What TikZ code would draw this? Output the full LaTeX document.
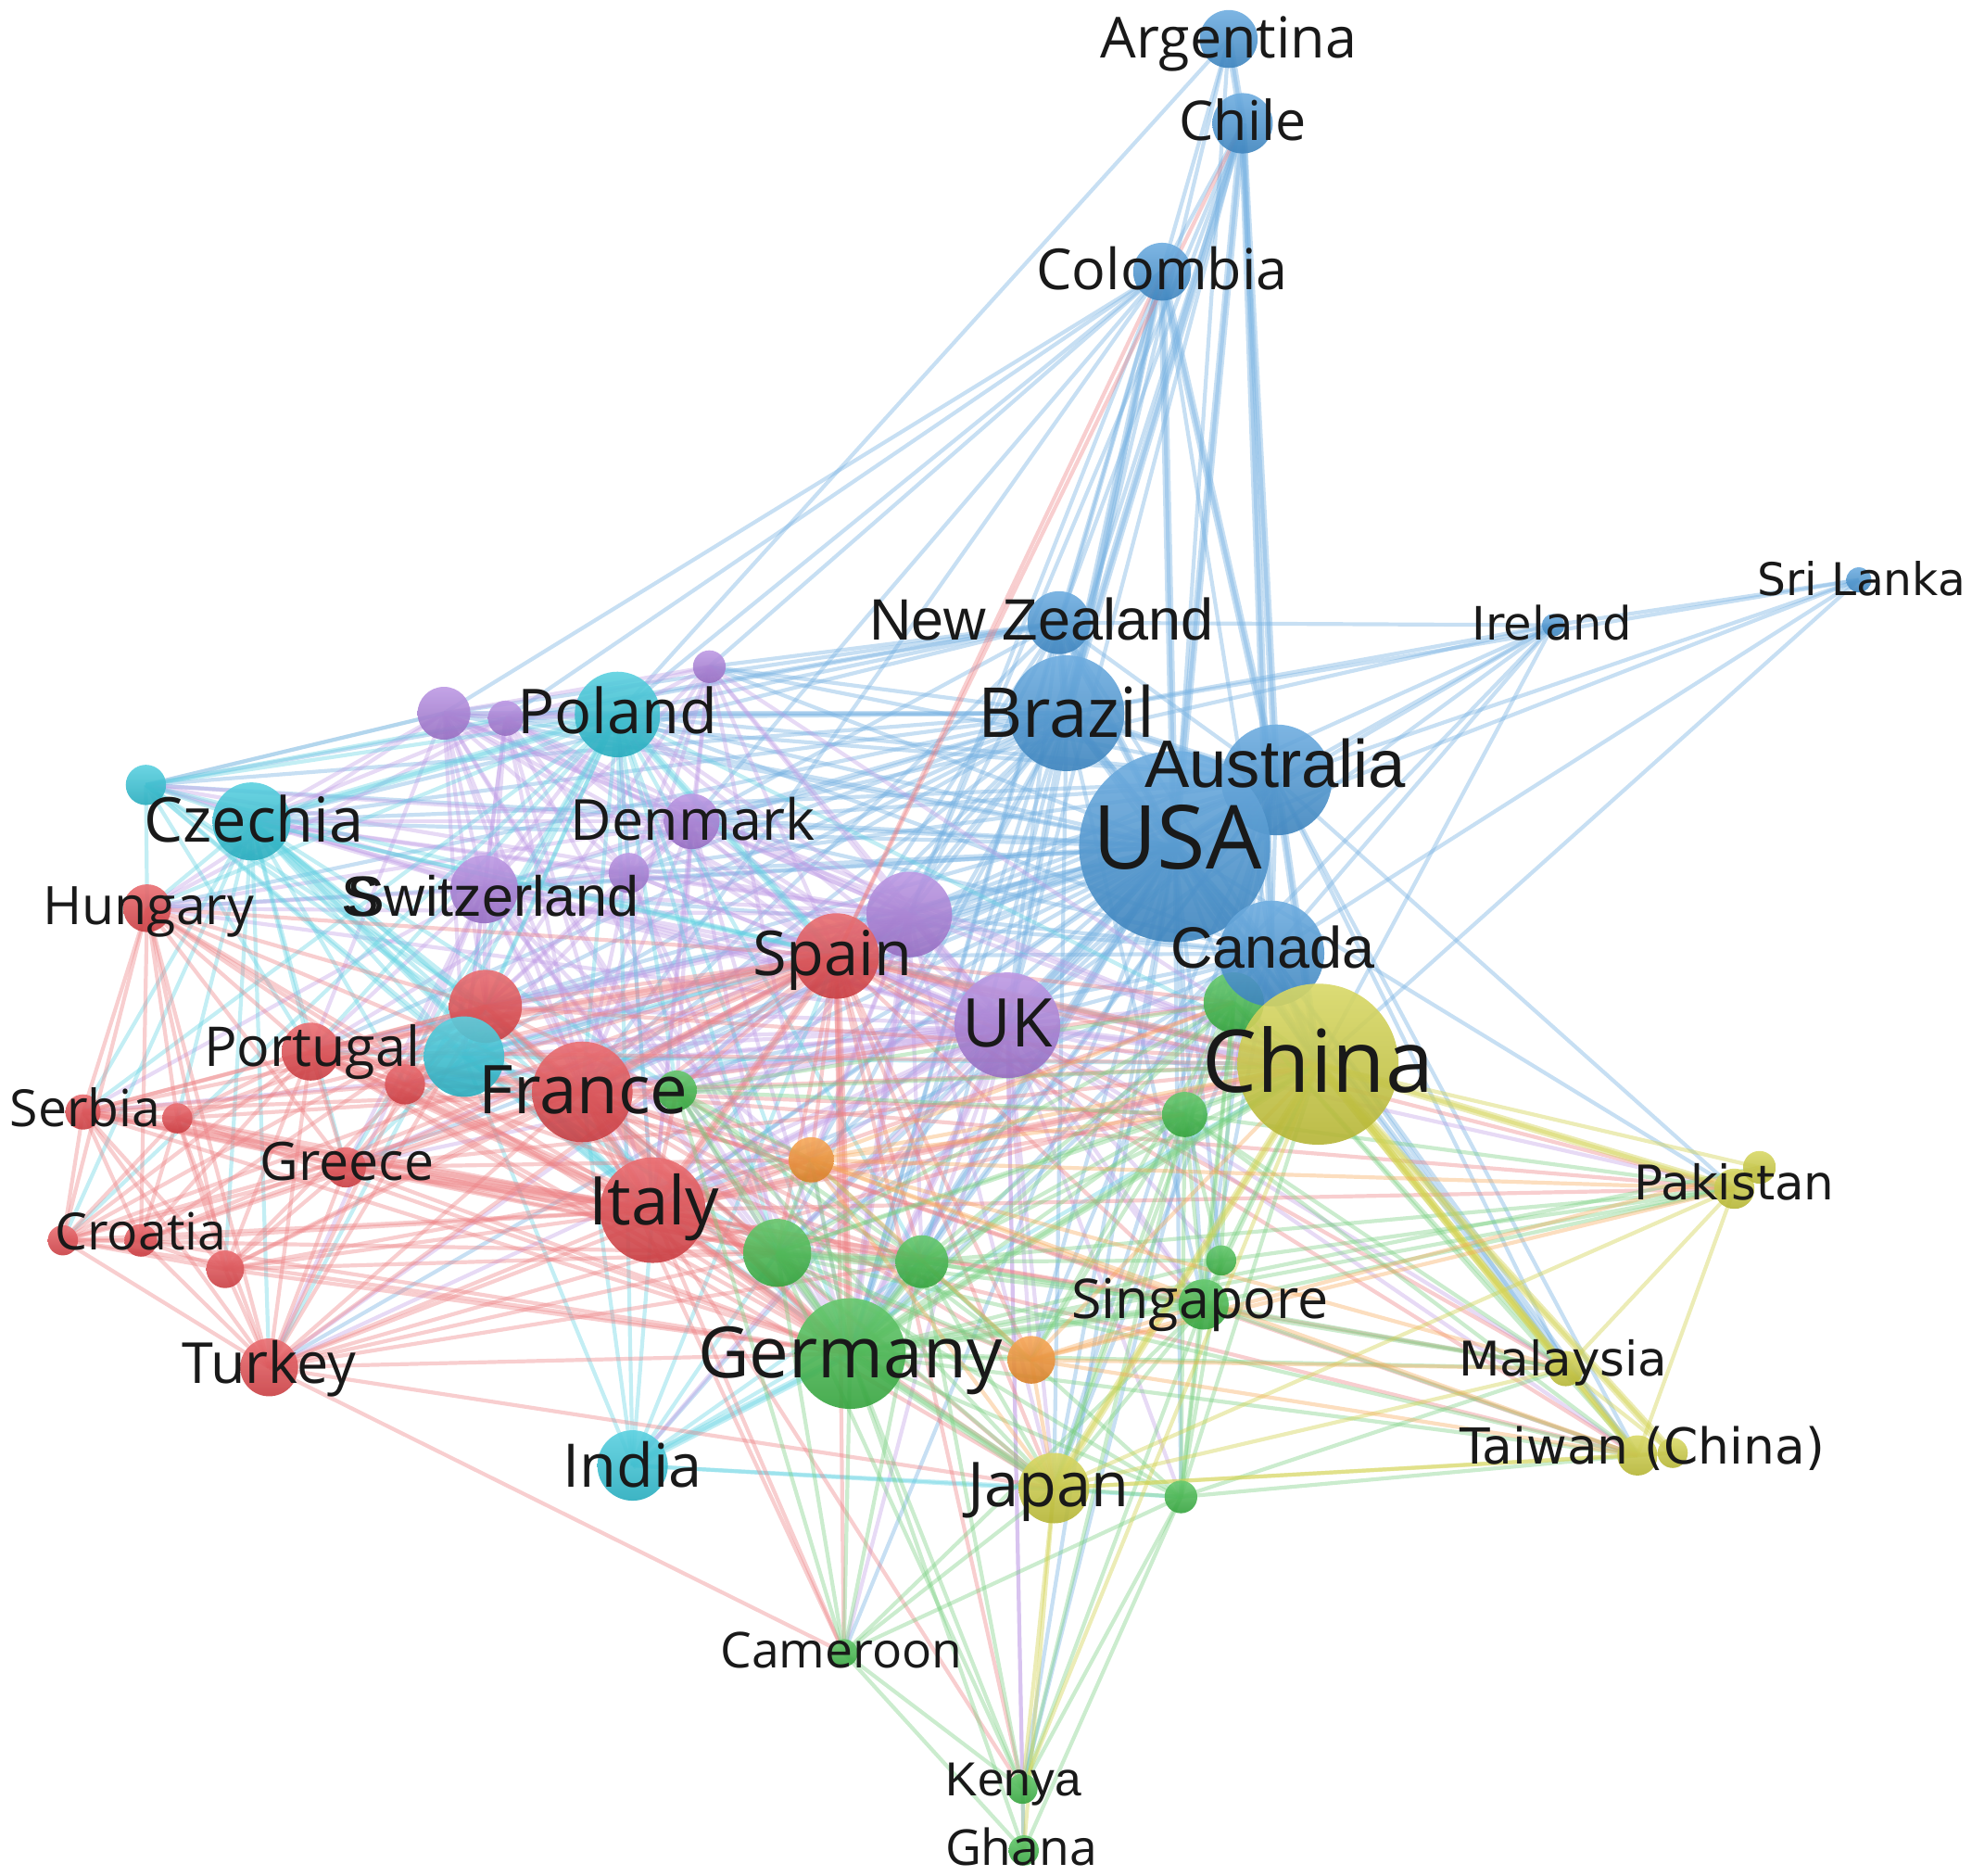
\documentclass[tikz,border=0pt]{standalone}
\usepackage{fontspec}
\setmainfont{Open Sans}
\newfontfamily\arialf{Liberation Sans}
\newfontfamily\dejaf{DejaVu Sans}
\pgfdeclarelayer{edges}
\pgfsetlayers{edges,main}
\definecolor{cB}{RGB}{70,150,215}
\definecolor{cC}{RGB}{45,195,215}
\definecolor{cP}{RGB}{170,125,220}
\definecolor{cR}{RGB}{228,70,75}
\definecolor{cG}{RGB}{60,185,70}
\definecolor{cY}{RGB}{205,205,60}
\definecolor{cO}{RGB}{245,145,45}
\definecolor{labc}{RGB}{25,25,25}
\tikzset{
  ndbase/.style={circle, inner sep=0pt, draw=none, fill opacity=0.9},
  lbl/.style={anchor=base, inner sep=0pt, text=labc},
  eB/.style={draw=cB!75!white, line width=2.2pt, draw opacity=0.4},
  eC/.style={draw=cC!75!white, line width=2.2pt, draw opacity=0.38},
  eP/.style={draw=cP!75!white, line width=2.2pt, draw opacity=0.38},
  eR/.style={draw=cR!70!white, line width=2.2pt, draw opacity=0.38},
  eG/.style={draw=cG!70!white, line width=2.2pt, draw opacity=0.38},
  eY/.style={draw=cY!90!white, line width=2.2pt, draw opacity=0.42},
  eO/.style={draw=cO!80!white, line width=2.2pt, draw opacity=0.38},
  wide/.style={line width=4.5pt}
}
\newcommand\nd[5]{\node[ndbase, top color=#5!78!white, bottom color=#5!88!black, minimum size=#4*0.5mm] (#1) at (#2,#3) {};}
\newcommand\lb[6]{\node[lbl, font={#6\fontsize{#5pt}{#5pt}\selectfont}] (#1) at (#2,{#3+#5/2}) {#4};}
\newcommand\fan[3]{\foreach \t in {#3} {\draw[#1] (#2.center) -- (\t.center);}}
\begin{document}
\begin{tikzpicture}[x=0.25mm,y=-0.25mm]
\useasboundingbox (0,0) rectangle (1568,1491);
% ---------- nodes ----------
\nd{ire}{1235}{497}{9}{cB}
\nd{sri}{1478}{461}{10}{cB}
\nd{arg}{977}{31}{23}{cB}
\nd{chi}{988}{98}{24}{cB}
\nd{col}{924}{216}{23}{cB}
\nd{nz}{842}{495}{25}{cB}
\nd{p1}{353}{567}{21}{cP}
\nd{p2}{402}{571}{14}{cP}
\nd{p3}{564}{530}{13}{cP}
\nd{p4}{500}{694}{16}{cP}
\nd{den}{550}{653}{22}{cP}
\nd{swi}{385}{707}{27}{cP}
\nd{c1}{116}{624}{16}{cC}
\nd{pol}{491}{568}{34}{cC}
\nd{cze}{200}{653}{31}{cC}
\nd{hun}{117}{722}{19}{cR}
\nd{ser}{66}{884}{14}{cR}
\nd{r3}{141}{889}{12}{cR}
\nd{cro}{50}{986}{12}{cR}
\nd{r4}{112}{986}{13}{cR}
\nd{r5}{179}{1009}{15}{cR}
\nd{gre}{275}{928}{16}{cR}
\nd{tur}{214}{1087}{23}{cR}
\nd{por}{247}{836}{23}{cR}
\nd{r1}{386}{800}{29}{cR}
\nd{r2}{322}{862}{16}{cR}
\nd{c2}{369}{840}{32}{cC}
\nd{ind}{503}{1165}{28}{cC}
\nd{pbig}{723}{727}{34}{cP}
\nd{spa}{665}{760}{34}{cR}
\nd{fra}{463}{868}{40}{cR}
\nd{g3}{538}{867}{16}{cG}
\nd{ita}{519}{962}{42}{cR}
\nd{o1}{645}{922}{18}{cO}
\nd{g1}{618}{996}{27}{cG}
\nd{g2}{733}{1003}{21}{cG}
\nd{ger}{676}{1076}{44}{cG}
\nd{o2}{820}{1081}{19}{cO}
\nd{g6}{971}{1002}{12}{cG}
\nd{sin}{957}{1037}{20}{cG}
\nd{g7}{939}{1190}{13}{cG}
\nd{jap}{838}{1183}{28}{cY}
\nd{cam}{671}{1314}{11}{cG}
\nd{ken}{813}{1422}{12}{cG}
\nd{gha}{814}{1471}{12}{cG}
\nd{uk}{801}{815}{42}{cP}
\nd{bra}{848}{567}{46}{cB}
\nd{aus}{1015}{620}{44}{cB}
\nd{usa}{934}{673}{76}{cB}
\nd{g4}{981}{797}{24}{cG}
\nd{can}{1011}{758}{42}{cB}
\nd{g5}{942}{886}{18}{cG}
\nd{chn}{1048}{846}{64}{cY}
\nd{pak}{1379}{945}{16}{cY}
\nd{pak2}{1399}{928}{13}{cY}
\nd{mal}{1245}{1088}{14}{cY}
\nd{tai}{1302}{1157}{16}{cY}
\nd{tai2}{1330}{1155}{12}{cY}
% ---------- labels ----------
\lb{argL}{977}{30}{Argentina}{32}{}
\lb{chiL}{988}{96}{Chile}{31}{}
\lb{colL}{924}{214}{Colombia}{32}{}
\lb{nzL}{828}{492}{New Zealand}{33}{\arialf}
\lb{braL}{848}{567}{Brazil}{39}{}
\lb{ausL}{1014}{607}{Australia}{38}{\arialf}
\lb{usaL}{936}{666}{USA}{50}{}
\lb{canL}{1012}{753}{Canada}{33}{\arialf}
\lb{chnL}{1048}{844}{China}{49}{}
\lb{ireL}{1234}{496}{Ireland}{26}{\dejaf}
\lb{sriL}{1480}{461}{Sri Lanka}{25.5}{\dejaf}
\lb{polL}{491}{566}{Poland}{35}{}
\lb{denL}{551}{652}{Denmark}{32}{}
\lb{czeL}{202}{652}{Czechia}{35}{}
\lb{swiL}{392}{712}{\makebox[0pt][l]{\hspace*{-0.09em}S}Switzerland}{32}{\arialf}
\lb{hunL}{118}{720}{Hungary}{30}{}
\lb{spaL}{662}{758}{Spain}{35}{}
\lb{ukL}{801}{813}{UK}{38}{}
\lb{porL}{248}{832}{Portugal}{31}{}
\lb{fraL}{464}{866}{France}{38}{}
\lb{serL}{68}{881}{Serbia}{29}{}
\lb{greL}{276}{923}{Greece}{30}{}
\lb{itaL}{520}{955}{Italy}{38}{}
\lb{croL}{112}{979}{Croatia}{29}{}
\lb{turL}{214}{1084}{Turkey}{32}{}
\lb{gerL}{676}{1075}{Germany}{40}{}
\lb{sinL}{954}{1033}{Singapore}{31}{}
\lb{indL}{503}{1165}{India}{34}{}
\lb{japL}{834}{1180}{Japan}{35}{}
\lb{pakL}{1379}{940}{Pakistan}{27}{\dejaf}
\lb{malL}{1243}{1080}{Malaysia}{27}{\dejaf}
\lb{taiL}{1306}{1150}{Taiwan (China)}{28}{\dejaf}
\lb{camL}{669}{1312}{Cameroon}{28}{}
\lb{kenL}{806}{1414}{Kenya}{27}{\arialf}
\lb{ghaL}{812}{1469}{Ghana}{28}{}
% ---------- edges ----------
\begin{pgfonlayer}{edges}
% blue
\fan{eB}{usa}{arg,chi,col,nz,bra,aus,can,ire,sri,uk,pbig,den,swi,p1,p2,p3,p4,pol,cze,c1,c2,ind,spa,fra,ita,hun,por,r1,r2,gre,tur,ger,g1,g2,g3,g4,g5,g6,sin,g7,jap,chn,tai,mal,pak,ken,cam,o1,o2}
\fan{eB}{bra}{arg,chi,col,nz,aus,can,ire,sri,uk,pbig,den,swi,p1,p2,p3,p4,pol,cze,c1,c2,spa,fra,ita,por,r1,hun,ger,g1,g2,g3,chn,jap,sin,o1}
\fan{eB}{aus}{chi,col,nz,can,ire,sri,uk,pbig,den,swi,p1,p3,pol,cze,spa,fra,ita,r1,ger,g1,g2,g4,g5,chn,jap,mal,pak,tai,sin,ken,o2}
\fan{eB}{can}{chi,col,nz,ire,sri,uk,pbig,den,swi,pol,spa,fra,ita,ger,g1,chn,jap,sin,tai,mal}
\fan{eB}{nz}{chi,col,uk,pbig,den,p1,p2,p3,pol,cze,c1,spa,fra,ger,ire}
\fan{eB}{col}{arg,chi,p1,p2,p3,pol,uk,pbig,den,ger,fra}
\fan{eB}{chi}{arg,pbig,uk,ger}
\fan{eB}{arg}{pol}
\fan{eB}{ire}{uk,chn,ger,den,sri,pbig}
\fan{eB}{sri}{chn}
\foreach \a/\b in {usa/chi,usa/bra,usa/aus,usa/can,usa/col,chi/bra,chi/aus,chi/can,col/bra,col/aus,arg/chi,bra/aus,usa/nz,usa/uk,usa/chn,usa/ger,aus/chn,can/chn,bra/nz}
  {\draw[eB,wide] (\a.center) -- (\b.center);}
% purple
\fan{eP}{uk}{pbig,den,swi,p1,p2,p3,p4,pol,cze,c1,c2,ind,spa,fra,ita,hun,por,r1,r2,gre,ser,tur,ger,g1,g2,g3,g4,g5,g6,sin,g7,jap,chn,tai,mal,pak,ken,cam,gha,o1,o2}
\fan{eP}{pbig}{den,swi,p1,p2,p3,p4,pol,cze,c1,c2,spa,fra,ita,hun,por,r1,r2,ger,g1,g2,g3,chn,jap,sin,o1,tur,gre}
\fan{eP}{den}{swi,p1,p2,p3,p4,pol,cze,c1,c2,spa,fra,ita,por,r1,hun,ger,g1,g3,chn}
\fan{eP}{swi}{p1,p2,p3,p4,pol,cze,c1,c2,spa,fra,ita,hun,por,r1,r2,ger,g1,g2,g3,chn,gre,tur,ser}
\fan{eP}{p1}{p2,p3,p4,pol,cze,c1,c2,spa,fra,ita,hun,por,r1,ger,g1,chn}
\fan{eP}{p2}{p3,p4,pol,cze,c2,spa,fra,ita,r1,ger,hun}
\fan{eP}{p3}{p4,pol,spa,fra,ita,r1,ger,chn}
\fan{eP}{p4}{pol,cze,spa,fra,ita,r1,ger,g1}
\foreach \a/\b in {uk/pbig,uk/ger,uk/spa,uk/ita,uk/fra,uk/chn,pbig/ger,pbig/spa}
  {\draw[eP,wide] (\a.center) -- (\b.center);}
% cyan
\fan{eC}{pol}{cze,c1,c2,spa,fra,ita,hun,por,r1,r2,ger,g1,g2,g3,chn,ind,ser,gre,cro,tur}
\fan{eC}{cze}{c1,c2,spa,fra,ita,hun,por,r1,r2,ger,g1,g3,chn,ser,gre,cro,tur,r3,r5}
\fan{eC}{c1}{c2,spa,fra,ita,por,hun,r1,p1,p2}
\fan{eC}{c2}{spa,fra,ita,r1,ger,g1,ind,chn,por,gre}
\fan{eC}{ind}{ger,ita,fra,g1,g2,jap,g7,chn,spa}
\foreach \a/\b in {ind/ger,pol/cze,pol/spa,cze/ita}
  {\draw[eC,wide] (\a.center) -- (\b.center);}
% red
\fan{eR}{spa}{col,chi,fra,ita,hun,por,r1,r2,ser,r3,gre,cro,r4,r5,tur,ger,g1,g2,g3,g4,g5,sin,jap,chn,tai,mal,pak,cam,o1,o2,ken}
\fan{eR}{fra}{ita,hun,por,r1,r2,ser,r3,gre,cro,r4,r5,tur,ger,g1,g2,g3,g4,g5,sin,jap,chn,tai,o1,o2,cam,pak}
\fan{eR}{ita}{hun,por,r1,r2,ser,r3,gre,cro,r4,r5,tur,ger,g1,g2,g3,g4,g5,sin,jap,chn,tai,mal,pak,o1,o2,cam,ken}
\fan{eR}{por}{hun,r1,r2,ser,r3,gre,cro,r4,r5,tur,ger,g1,g2,chn,o1,jap}
\fan{eR}{r1}{hun,r2,ser,r3,gre,cro,r4,r5,tur,ger,g1,chn,o1}
\fan{eR}{hun}{ser,r3,gre,cro,r4,r5,tur,ger,r2}
\fan{eR}{ser}{r3,gre,cro,r4,r5,tur,ger,g1,r2}
\fan{eR}{r3}{gre,cro,r4,r5,tur,ger,g1}
\fan{eR}{gre}{cro,r4,r5,tur,ger,g1,g2,o1,chn}
\fan{eR}{cro}{r4,r5,tur,g1,ger}
\fan{eR}{r4}{r5,tur,ger}
\fan{eR}{r5}{tur,ger,g1,o1}
\fan{eR}{tur}{ger,g1,g2,cam,chn,o1,jap,r2}
\foreach \a/\b in {ita/fra,ita/spa,fra/spa,ita/por,spa/por,ita/ser,fra/por,ita/ger,spa/ger,fra/ger,ita/gre,spa/chn,ita/chn}
  {\draw[eR,wide] (\a.center) -- (\b.center);}
% green
\fan{eG}{ger}{g1,g2,g3,g4,g5,g6,sin,g7,jap,chn,tai,mal,pak,pak2,cam,ken,gha,o1,o2}
\fan{eG}{g1}{g2,g3,g4,g5,sin,g7,jap,chn,cam,ken,o1,o2,tai}
\fan{eG}{g2}{g3,g4,g5,g6,sin,g7,jap,chn,cam,ken,o1,o2,mal,pak}
\fan{eG}{g3}{g4,g5,o1,chn,cam,o2,jap}
\fan{eG}{g4}{g5,g6,sin,g7,chn,jap,o2,mal,tai}
\fan{eG}{g5}{g6,sin,g7,chn,jap,o2,tai,pak,mal,ken}
\fan{eG}{g6}{sin,g7,chn,pak}
\fan{eG}{sin}{g7,jap,chn,tai,mal,ken,cam,pak}
\fan{eG}{g7}{jap,chn,tai,mal,ken,cam,gha}
\fan{eG}{cam}{ken,gha,jap}
\fan{eG}{ken}{gha}
\foreach \a/\b in {ger/g1,ger/g2,ger/chn,ger/jap,g1/g2,ger/sin}
  {\draw[eG,wide] (\a.center) -- (\b.center);}
% yellow
\fan{eY}{chn}{jap,pak,pak2,mal,tai,tai2,ken}
\fan{eY}{jap}{pak,mal,tai,tai2,ken,gha}
\fan{eY}{mal}{pak,tai,tai2}
\fan{eY}{pak}{pak2,tai}
\fan{eY}{tai}{tai2}
\foreach \a/\b in {chn/tai,chn/tai2,chn/mal,chn/jap,chn/pak}
  {\draw[eY,wide] (\a.center) -- (\b.center);}
% orange
\fan{eO}{o1}{o2,chn,jap,tai,pak,mal,sin,g4,g5}
\fan{eO}{o2}{chn,jap,tai,pak,mal,sin,pak2}
\end{pgfonlayer}
\end{tikzpicture}
\end{document}
